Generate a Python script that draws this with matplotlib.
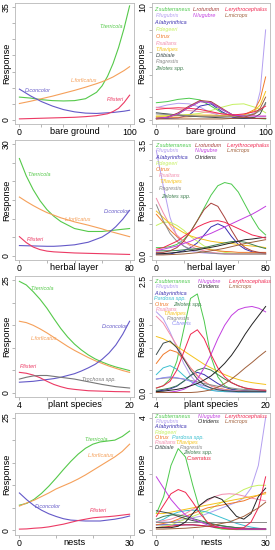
import matplotlib
matplotlib.use('Agg')
import matplotlib.pyplot as plt

plt.rcParams['font.family'] = ['Liberation Sans', 'DejaVu Sans']

# ---------------- left column: the four common species ----------------
bare_x = [0, 10, 20, 30, 40, 50, 60, 70, 75, 80, 85, 90, 95, 100]
bare_tter = [7.0, 6.7, 6.2, 5.9, 5.8, 5.9, 6.5, 8.5, 10.5, 13.5, 17.5, 22.5, 28.5, 35.5]
bare_lfor = [5.0, 5.7, 6.5, 7.3, 8.2, 9.1, 10.1, 11.2, 11.8, 12.5, 13.3, 14.3, 15.3, 16.5]
bare_dcon = [9.5, 7.4, 5.6, 4.2, 3.1, 2.4, 2.0, 1.9, 2.0, 2.1, 2.2, 2.4, 2.6, 2.9]
bare_plis = [0.2, 0.3, 0.4, 0.5, 0.6, 0.7, 0.9, 1.2, 1.5, 1.8, 2.5, 3.5, 5.3, 7.6]

herb_x = [0, 5, 10, 15, 20, 25, 30, 40, 50, 60, 65, 70, 75, 80]
herb_tter = [26.2, 21.5, 17.8, 14.8, 12.4, 10.6, 9.2, 7.3, 6.5, 6.5, 6.7, 6.9, 7.1, 7.3]
herb_lfor = [15.8, 14.6, 13.5, 12.5, 11.6, 10.9, 10.2, 9.1, 8.2, 7.2, 6.6, 6.1, 5.6, 5.1]
herb_dcon = [2.7, 2.65, 2.6, 2.55, 2.5, 2.5, 2.6, 2.9, 3.6, 5.0, 6.2, 7.8, 9.8, 12.2]
herb_plis = [5.1, 3.5, 2.3, 1.6, 1.2, 1.0, 0.9, 0.7, 0.6, 0.5, 0.45, 0.4, 0.35, 0.3]

plant_x = [4, 5, 6, 7, 8, 9, 10, 11, 12, 13, 14, 15, 16, 17, 18, 19, 20]
plant_tter = [24.8, 24.0, 22.5, 20.8, 18.8, 16.5, 14.3, 12.4, 10.8, 9.5, 8.4, 7.5, 6.8, 6.2, 5.7, 5.3, 4.9]
plant_lfor = [15.9, 15.6, 15.0, 14.2, 13.3, 12.3, 11.3, 10.3, 9.4, 8.6, 7.8, 7.1, 6.5, 5.9, 5.4, 4.9, 4.5]
plant_dcon = [2.3, 2.4, 2.5, 2.7, 2.9, 3.1, 3.4, 3.8, 4.2, 4.8, 5.5, 6.3, 7.4, 8.8, 10.6, 13.0, 15.9]
plant_plis = [4.5, 4.3, 3.9, 3.3, 2.5, 1.8, 1.3, 0.9, 0.7, 0.55, 0.4, 0.35, 0.3, 0.25, 0.2, 0.18, 0.15]
plant_troc = [3.0, 3.4, 3.7, 3.8, 3.8, 3.6, 3.4, 3.2, 3.0, 2.7, 2.4, 2.1, 1.8, 1.55, 1.3, 1.15, 1.0]

nest_x = [0, 2, 4, 6, 8, 10, 12, 14, 16, 18, 20, 22, 24, 26, 28, 30]
nest_tter = [5.6, 6.0, 6.9, 8.2, 9.8, 11.6, 13.5, 15.3, 16.9, 18.2, 19.1, 19.6, 19.8, 20.0, 20.8, 22.0]
nest_lfor = [5.4, 6.1, 6.7, 7.5, 8.3, 9.2, 9.9, 10.6, 11.4, 12.3, 13.3, 14.3, 15.3, 16.3, 17.5, 19.1]
nest_dcon = [8.3, 6.8, 5.5, 4.5, 3.7, 3.1, 2.6, 2.3, 2.2, 2.1, 2.1, 2.1, 2.3, 2.5, 2.8, 3.2]
nest_plis = [0.3, 0.35, 0.5, 0.6, 0.8, 1.1, 1.4, 1.8, 2.2, 2.5, 2.8, 2.95, 3.05, 3.2, 3.4, 3.6]

# ---------------- right column: rarer species ----------------
bare2_x = [0, 10, 20, 30, 40, 50, 60, 70, 80, 90, 95, 100]
bare2_zsub = [1.5, 1.6, 1.8, 1.9, 1.75, 1.2, 0.6, 0.3, 0.2, 0.1, 0.08, 0.05]
bare2_plug = [1.05, 1.3, 1.45, 1.4, 1.1, 0.6, 0.3, 0.2, 0.2, 0.6, 2.5, 8.0]
bare2_alab = [0.1, 0.1, 0.15, 0.4, 1.2, 1.4, 0.7, 0.2, 0.1, 0.1, 0.1, 0.1]
bare2_pdeg = [0.3, 0.35, 0.4, 0.45, 0.55, 0.8, 1.1, 1.35, 1.4, 1.1, 0.9, 0.6]
bare2_otru = [0.2, 0.2, 0.2, 0.25, 0.3, 0.3, 0.3, 0.3, 0.4, 0.9, 1.8, 3.8]
bare2_psal = [1.1, 1.0, 0.9, 0.8, 0.7, 0.6, 0.5, 0.45, 0.4, 0.35, 0.3, 0.3]
bare2_tfla = [0.3, 0.3, 0.35, 0.4, 0.4, 0.4, 0.35, 0.3, 0.4, 0.8, 1.3, 2.5]
bare2_dtib = [0.6, 0.5, 0.4, 0.3, 0.25, 0.2, 0.15, 0.1, 0.1, 0.2, 0.5, 1.5]
bare2_pagr = [0.5, 0.45, 0.4, 0.35, 0.3, 0.3, 0.3, 0.3, 0.35, 0.5, 0.8, 1.4]
bare2_zelo = [0.1, 0.2, 0.5, 1.1, 1.6, 1.5, 0.9, 0.4, 0.2, 0.1, 0.1, 0.1]
bare2_lrot = [0.05, 0.2, 0.6, 1.2, 1.7, 1.6, 1.0, 0.4, 0.2, 0.1, 0.1, 0.1]
bare2_nlug = [0.1, 0.2, 0.5, 1.1, 1.6, 1.5, 0.9, 0.4, 0.3, 0.3, 0.3, 0.3]
bare2_lery = [0.9, 1.0, 1.05, 1.0, 0.9, 0.7, 0.5, 0.4, 0.5, 0.7, 0.9, 1.2]
bare2_lmic = [0.05, 0.05, 0.05, 0.05, 0.05, 0.05, 0.05, 0.1, 0.2, 0.5, 1.0, 2.0]

herb2_x = [0, 5, 10, 15, 20, 25, 30, 35, 40, 45, 50, 55, 60, 65, 70, 75, 80]
herb2_zsub = [0.25, 0.25, 0.28, 0.35, 0.5, 0.75, 1.1, 1.5, 1.9, 2.2, 2.3, 2.25, 2.0, 1.6, 1.2, 0.85, 0.65]
herb2_plug = [3.3, 2.2, 1.2, 0.6, 0.3, 0.15, 0.1, 0.08, 0.07, 0.06, 0.05, 0.05, 0.05, 0.05, 0.05, 0.05, 0.05]
herb2_alab = [0.05, 0.05, 0.05, 0.1, 0.15, 0.25, 0.4, 0.65, 0.9, 1.0, 0.9, 0.6, 0.35, 0.2, 0.12, 0.08, 0.05]
herb2_pdeg = [0.95, 1.05, 1.05, 0.95, 0.8, 0.6, 0.45, 0.3, 0.2, 0.15, 0.1, 0.08, 0.06, 0.05, 0.05, 0.05, 0.05]
herb2_otru = [1.3, 1.05, 0.8, 0.6, 0.45, 0.35, 0.28, 0.22, 0.18, 0.15, 0.13, 0.12, 0.1, 0.1, 0.1, 0.1, 0.1]
herb2_psal = [1.8, 1.35, 0.95, 0.65, 0.45, 0.3, 0.2, 0.15, 0.1, 0.08, 0.06, 0.05, 0.05, 0.05, 0.05, 0.05, 0.05]
herb2_tfla = [1.4, 1.2, 1.0, 0.85, 0.72, 0.62, 0.55, 0.5, 0.45, 0.42, 0.4, 0.38, 0.35, 0.32, 0.3, 0.28, 0.25]
herb2_pagr = [1.6, 1.1, 0.7, 0.45, 0.3, 0.2, 0.15, 0.1, 0.08, 0.06, 0.05, 0.05, 0.05, 0.05, 0.05, 0.05, 0.05]
herb2_zelo = [0.15, 0.15, 0.15, 0.16, 0.18, 0.2, 0.22, 0.25, 0.3, 0.35, 0.4, 0.44, 0.45, 0.42, 0.35, 0.28, 0.22]
herb2_lrot = [0.1, 0.1, 0.15, 0.25, 0.45, 0.75, 1.1, 1.45, 1.65, 1.55, 1.2, 0.8, 0.45, 0.25, 0.15, 0.1, 0.08]
herb2_nlug = [0.15, 0.2, 0.25, 0.3, 0.38, 0.45, 0.55, 0.62, 0.7, 0.8, 0.9, 1.0, 1.1, 1.2, 1.3, 1.42, 1.55]
herb2_otri = [0.05, 0.06, 0.08, 0.1, 0.12, 0.15, 0.18, 0.22, 0.26, 0.3, 0.35, 0.4, 0.45, 0.5, 0.52, 0.55, 0.58]
herb2_lery = [0.2, 0.25, 0.35, 0.45, 0.6, 0.75, 0.9, 1.0, 1.08, 1.1, 1.05, 0.95, 0.85, 0.75, 0.65, 0.6, 0.55]
herb2_lmic = [0.02, 0.02, 0.03, 0.04, 0.05, 0.07, 0.09, 0.12, 0.15, 0.19, 0.23, 0.28, 0.33, 0.38, 0.42, 0.46, 0.5]

plant2_x = [4, 5, 6, 7, 8, 9, 10, 11, 12, 13, 14, 15, 16, 17, 18, 19, 20]
plant2_zsub = [0.1, 0.15, 0.3, 0.7, 1.4, 2.1, 2.2, 1.6, 0.8, 0.35, 0.15, 0.08, 0.05, 0.05, 0.05, 0.05, 0.05]
plant2_lery = [0.1, 0.15, 0.25, 0.5, 0.9, 1.3, 1.4, 1.2, 0.85, 0.55, 0.35, 0.22, 0.15, 0.1, 0.08, 0.06, 0.05]
plant2_nlug = [0.0, 0.0, 0.01, 0.03, 0.07, 0.15, 0.3, 0.55, 0.85, 1.2, 1.5, 1.72, 1.85, 1.9, 1.92, 1.88, 1.8]
plant2_otri = [0.02, 0.03, 0.05, 0.07, 0.1, 0.15, 0.2, 0.28, 0.37, 0.5, 0.65, 0.83, 1.05, 1.3, 1.52, 1.72, 1.92]
plant2_lmic = [0.0, 0.0, 0.0, 0.0, 0.0, 0.0, 0.01, 0.03, 0.06, 0.12, 0.2, 0.3, 0.42, 0.55, 0.67, 0.8, 0.92]
plant2_plug = [1.8, 1.65, 1.35, 1.0, 0.65, 0.38, 0.2, 0.1, 0.05, 0.03, 0.02, 0.01, 0.01, 0.01, 0.01, 0.01, 0.01]
plant2_psal = [1.7, 1.55, 1.3, 1.05, 0.78, 0.55, 0.37, 0.24, 0.15, 0.1, 0.06, 0.04, 0.03, 0.02, 0.02, 0.02, 0.02]
plant2_tfla = [1.25, 1.2, 1.12, 1.03, 0.93, 0.83, 0.73, 0.63, 0.55, 0.47, 0.4, 0.34, 0.29, 0.25, 0.22, 0.2, 0.18]
plant2_dtib = [0.85, 1.1, 1.15, 1.0, 0.75, 0.5, 0.3, 0.17, 0.1, 0.06, 0.04, 0.03, 0.02, 0.02, 0.02, 0.02, 0.02]
plant2_otru = [0.65, 0.85, 0.95, 0.9, 0.75, 0.55, 0.38, 0.25, 0.15, 0.1, 0.07, 0.05, 0.04, 0.03, 0.03, 0.03, 0.03]
plant2_pard = [0.4, 0.55, 0.6, 0.52, 0.38, 0.25, 0.15, 0.09, 0.05, 0.03, 0.02, 0.02, 0.01, 0.01, 0.01, 0.01, 0.01]
plant2_zelo = [0.05, 0.07, 0.1, 0.15, 0.25, 0.38, 0.5, 0.55, 0.5, 0.4, 0.3, 0.22, 0.15, 0.1, 0.07, 0.05, 0.04]
plant2_alab = [0.03, 0.05, 0.08, 0.14, 0.25, 0.38, 0.45, 0.4, 0.3, 0.2, 0.12, 0.07, 0.05, 0.04, 0.03, 0.03, 0.03]
plant2_pagr = [0.3, 0.32, 0.33, 0.32, 0.3, 0.27, 0.24, 0.2, 0.17, 0.14, 0.12, 0.1, 0.08, 0.07, 0.06, 0.05, 0.05]
plant2_cbre = [0.3, 0.33, 0.35, 0.33, 0.3, 0.25, 0.2, 0.15, 0.1, 0.07, 0.05, 0.04, 0.03, 0.03, 0.03, 0.03, 0.03]

nest2_x = [0, 2, 4, 6, 8, 10, 12, 14, 16, 18, 20, 22, 24, 26, 28, 30]
nest2_zsub = [0.6, 1.2, 2.3, 2.9, 2.6, 1.6, 0.7, 0.25, 0.1, 0.05, 0.04, 0.03, 0.03, 0.03, 0.03, 0.03]
nest2_lery = [0.5, 0.9, 1.3, 1.45, 1.35, 1.0, 0.6, 0.3, 0.15, 0.08, 0.05, 0.05, 0.1, 0.3, 0.8, 1.9]
nest2_plug = [0.3, 0.3, 0.3, 0.35, 0.4, 0.45, 0.5, 0.6, 0.7, 0.8, 0.9, 1.0, 1.15, 1.5, 2.3, 4.0]
nest2_nlug = [1.9, 1.5, 1.1, 0.8, 0.55, 0.4, 0.3, 0.2, 0.15, 0.1, 0.08, 0.06, 0.05, 0.05, 0.05, 0.05]
nest2_alab = [0.2, 0.2, 0.2, 0.2, 0.2, 0.2, 0.18, 0.15, 0.12, 0.1, 0.08, 0.06, 0.05, 0.05, 0.05, 0.05]
nest2_pdeg = [0.1, 0.15, 0.2, 0.3, 0.4, 0.5, 0.6, 0.7, 0.85, 1.0, 1.15, 1.3, 1.45, 1.55, 1.6, 1.6]
nest2_otru = [0.2, 0.25, 0.3, 0.4, 0.5, 0.6, 0.7, 0.8, 0.85, 0.9, 0.95, 1.0, 1.05, 1.15, 1.25, 1.35]
nest2_psal = [0.3, 0.35, 0.4, 0.5, 0.6, 0.75, 0.9, 1.05, 1.2, 1.28, 1.3, 1.28, 1.22, 1.15, 1.1, 1.05]
nest2_tfla = [0.6, 0.6, 0.65, 0.7, 0.75, 0.8, 0.85, 0.9, 0.95, 1.0, 1.05, 1.1, 1.15, 1.2, 1.25, 1.3]
nest2_dtib = [0.7, 0.65, 0.6, 0.5, 0.42, 0.35, 0.3, 0.25, 0.2, 0.16, 0.13, 0.1, 0.08, 0.07, 0.06, 0.05]
nest2_otri = [0.1, 0.1, 0.1, 0.15, 0.3, 0.6, 0.9, 1.1, 1.2, 1.1, 0.8, 0.5, 0.4, 0.6, 1.2, 1.5]
nest2_pard = [0.3, 0.4, 0.55, 0.65, 0.7, 0.72, 0.7, 0.65, 0.55, 0.45, 0.35, 0.25, 0.18, 0.12, 0.08, 0.05]
nest2_zelo = [0.4, 0.5, 0.55, 0.55, 0.5, 0.42, 0.35, 0.28, 0.22, 0.17, 0.13, 0.1, 0.08, 0.06, 0.05, 0.05]
nest2_cser = [0.1, 0.12, 0.15, 0.18, 0.2, 0.2, 0.18, 0.15, 0.12, 0.1, 0.08, 0.06, 0.05, 0.05, 0.05, 0.05]
nest2_lmic = [0.05, 0.05, 0.06, 0.07, 0.08, 0.1, 0.12, 0.15, 0.2, 0.25, 0.3, 0.4, 0.5, 0.65, 0.8, 1.0]
nest2_pagr = [0.3, 0.3, 0.3, 0.3, 0.3, 0.3, 0.3, 0.3, 0.3, 0.3, 0.3, 0.3, 0.3, 0.3, 0.3, 0.3]

# ---------------- colours & names ----------------
col = {
    'tter': '#55c94a', 'lfor': '#f5a05a', 'dcon': '#6459c8', 'plis': '#ec3a64', 'troc': '#777777',
    'zsub': '#4cc94c', 'plug': '#b39ff0', 'alab': '#3a2fb0', 'pdeg': '#c5f060', 'otru': '#f07a2a',
    'psal': '#f28cac', 'tfla': '#f5c21b', 'dtib': '#3c4a4a', 'pagr': '#8a8a8a', 'zelo': '#3f7f4f',
    'lrot': '#a8403c', 'nlug': '#c23ee0', 'lery': '#f0264f', 'lmic': '#a0603c', 'otri': '#222222',
    'pard': '#3cc0d0', 'cbre': '#8e8ef5', 'cser': '#e8203a',
}
name = {
    'tter': 'T.terricola', 'lfor': 'L.forficatus', 'dcon': 'D.concolor', 'plis': 'P.listeri',
    'troc': 'Trochosa spp.', 'zsub': 'Z.subterraneus', 'plug': 'P.lugubris', 'alab': 'A.labyrinthica',
    'pdeg': 'P.degeeri', 'otru': 'O.trux', 'psal': 'P.saltans', 'tfla': 'T.flavipes', 'dtib': 'D.tibiale',
    'pagr': 'P.agrestis', 'zelo': 'Zelotes spp.', 'lrot': 'L.rotundum', 'nlug': 'N.lugubre',
    'lery': 'L.erythrocephalus', 'lmic': 'L.microps', 'otri': 'O.tridens', 'pard': 'Pardosa spp.',
    'cbre': 'C.brevis', 'cser': 'C.serratus',
}

W, H = 275, 550
fig = plt.figure(figsize=(W / 100, H / 100), dpi=100)

rows_px = [(3, 124), (140, 260), (276, 397), (413, 535)]
cols_px = [(15, 134), (152, 270)]


def make_ax(r, c):
    (y0, y1), (x0, x1) = rows_px[r], cols_px[c]
    return fig.add_axes([x0 / W, 1 - y1 / H, (x1 - x0) / W, (y1 - y0) / H])


def style(ax, lo, hi, xt, ymax, yt, ylab, xlabel, ylabx):
    ax.set_xlim(lo - 0.04 * (hi - lo), hi + 0.04 * (hi - lo))
    ax.set_ylim(-0.04 * ymax, ymax * 1.04)
    ax.set_xticks(xt)
    ax.set_xticklabels([str(xt[0])] + [''] * (len(xt) - 2) + [str(xt[-1])])
    ax.set_yticks(yt)
    ax.set_yticklabels([ylab[0]] + [''] * (len(yt) - 2) + [ylab[1]], rotation=90, va='center')
    for s in ax.spines.values():
        s.set_color('#b8b8b8')
        s.set_linewidth(0.6)
    ax.tick_params(direction='out', length=2, width=0.5, color='#999999', labelsize=6.3, pad=1.2)
    ax.text(0.5, -0.022, xlabel, transform=ax.transAxes, ha='center', va='top', fontsize=6.6)
    ax.text(ylabx, 0.5, 'Response', transform=ax.transAxes, ha='center', va='center',
            rotation=90, fontsize=6.6)


def put(ax, x, y, key, tx, ty):
    ax.plot(x, y, color=col[key], lw=0.8)
    if tx is not None:
        ax.text(tx, ty, name[key], color=col[key], fontsize=3.9, style='italic',
                ha='left', va='center')


# ---- left panels ----
ax = make_ax(0, 0)
put(ax, bare_x, bare_tter, 'tter', 73, 29.2)
put(ax, bare_x, bare_lfor, 'lfor', 47, 12.3)
put(ax, bare_x, bare_dcon, 'dcon', 5, 9.1)
put(ax, bare_x, bare_plis, 'plis', 79, 6.3)
style(ax, 0, 100, [0, 20, 40, 60, 80, 100], 35, list(range(0, 36, 5)), ('0', '35'), 'bare ground', -0.072)

ax = make_ax(1, 0)
put(ax, herb_x, herb_tter, 'tter', 5.7, 22)
put(ax, herb_x, herb_lfor, 'lfor', 33, 9.6)
put(ax, herb_x, herb_dcon, 'dcon', 61, 12)
put(ax, herb_x, herb_plis, 'plis', 5.7, 4.4)
style(ax, 0, 80, [0, 20, 40, 60, 80], 30, list(range(0, 31, 5)), ('0', '30'), 'herbal layer', -0.072)

ax = make_ax(2, 0)
put(ax, plant_x, plant_tter, 'tter', 5.6, 23.3)
put(ax, plant_x, plant_lfor, 'lfor', 5.6, 12.1)
put(ax, plant_x, plant_dcon, 'dcon', 15.9, 14.8)
put(ax, plant_x, plant_plis, 'plis', 4.0, 5.7)
put(ax, plant_x, plant_troc, 'troc', 13.1, 2.8)
style(ax, 4, 20, [4, 8, 12, 16, 20], 25, list(range(0, 26, 5)), ('0', '25'), 'plant species', -0.072)

ax = make_ax(3, 0)
put(ax, nest_x, nest_tter, 'tter', 17.6, 20.2)
put(ax, nest_x, nest_lfor, 'lfor', 18.7, 16.6)
put(ax, nest_x, nest_dcon, 'dcon', 4.3, 5.3)
put(ax, nest_x, nest_plis, 'plis', 19.3, 4.4)
style(ax, 0, 30, [0, 10, 20, 30], 25, list(range(0, 26, 5)), ('0', '25'), 'nests', -0.072)


# ---- right panels: labels placed in axes fractions ----
def put2(ax, x, y, key, fx, fy):
    ax.plot(x, y, color=col[key], lw=0.7)
    if fx is not None:
        ax.text(fx, fy, name[key], color=col[key], fontsize=3.9, style='italic',
                ha='left', va='center', transform=ax.transAxes)


ax = make_ax(0, 1)
bare2 = [('zsub', bare2_zsub, 0.02, 0.95), ('plug', bare2_plug, 0.035, 0.895),
         ('alab', bare2_alab, 0.02, 0.837), ('pdeg', bare2_pdeg, 0.03, 0.777),
         ('otru', bare2_otru, 0.03, 0.722), ('psal', bare2_psal, 0.03, 0.667),
         ('tfla', bare2_tfla, 0.03, 0.617), ('dtib', bare2_dtib, 0.03, 0.564),
         ('pagr', bare2_pagr, 0.03, 0.514), ('zelo', bare2_zelo, 0.03, 0.46),
         ('lrot', bare2_lrot, 0.35, 0.95), ('nlug', bare2_nlug, 0.35, 0.895),
         ('lery', bare2_lery, 0.62, 0.95), ('lmic', bare2_lmic, 0.62, 0.895)]
for key, y, fx, fy in bare2:
    put2(ax, bare2_x, y, key, fx, fy)
style(ax, 0, 100, [0, 20, 40, 60, 80, 100], 10, list(range(0, 11, 2)), ('0', '10'), 'bare ground', -0.085)

ax = make_ax(1, 1)
herb2 = [('zsub', herb2_zsub, 0.025, 0.958), ('plug', herb2_plug, 0.03, 0.911),
         ('alab', herb2_alab, 0.025, 0.856), ('pdeg', herb2_pdeg, 0.03, 0.803),
         ('otru', herb2_otru, 0.03, 0.756), ('psal', herb2_psal, 0.054, 0.703),
         ('tfla', herb2_tfla, 0.06, 0.653), ('pagr', herb2_pagr, 0.054, 0.597),
         ('zelo', herb2_zelo, 0.076, 0.533), ('lrot', herb2_lrot, 0.364, 0.958),
         ('nlug', herb2_nlug, 0.364, 0.911), ('otri', herb2_otri, 0.364, 0.856),
         ('lery', herb2_lery, 0.633, 0.958), ('lmic', herb2_lmic, 0.633, 0.911)]
for key, y, fx, fy in herb2:
    put2(ax, herb2_x, y, key, fx, fy)
style(ax, 0, 80, [0, 20, 40, 60, 80], 3.5, [0, 0.5, 1, 1.5, 2, 2.5, 3, 3.5], ('0.0', '3.5'), 'herbal layer', -0.085)

ax = make_ax(2, 1)
plant2 = [('zsub', plant2_zsub, 0.02, 0.953), ('plug', plant2_plug, 0.03, 0.912),
          ('alab', plant2_alab, 0.02, 0.857), ('pard', plant2_pard, 0.02, 0.81),
          ('otru', plant2_otru, 0.02, 0.766), ('zelo', plant2_zelo, 0.18, 0.766),
          ('psal', plant2_psal, 0.03, 0.725), ('tfla', plant2_tfla, 0.096, 0.686),
          ('pagr', plant2_pagr, 0.124, 0.645), ('cbre', plant2_cbre, 0.167, 0.609),
          ('dtib', plant2_dtib, None, None),
          ('nlug', plant2_nlug, 0.39, 0.953), ('otri', plant2_otri, 0.39, 0.912),
          ('lery', plant2_lery, 0.647, 0.953), ('lmic', plant2_lmic, 0.647, 0.912)]
for key, y, fx, fy in plant2:
    put2(ax, plant2_x, y, key, fx, fy)
style(ax, 4, 20, [4, 8, 12, 16, 20], 2.5, [0, 0.5, 1, 1.5, 2, 2.5], ('0.0', '2.5'), 'plant species', -0.085)

ax = make_ax(3, 1)
nest2 = [('zsub', nest2_zsub, 0.02, 0.97), ('plug', nest2_plug, 0.03, 0.929),
         ('alab', nest2_alab, 0.02, 0.888), ('pdeg', nest2_pdeg, 0.02, 0.842),
         ('otru', nest2_otru, 0.02, 0.801), ('pard', nest2_pard, 0.167, 0.801),
         ('psal', nest2_psal, 0.02, 0.76), ('tfla', nest2_tfla, 0.2, 0.76),
         ('dtib', nest2_dtib, 0.02, 0.719), ('pagr', nest2_pagr, 0.237, 0.719),
         ('zelo', nest2_zelo, 0.265, 0.675), ('cser', nest2_cser, 0.294, 0.629),
         ('nlug', nest2_nlug, 0.39, 0.97), ('otri', nest2_otri, 0.39, 0.929),
         ('lery', nest2_lery, 0.62, 0.97), ('lmic', nest2_lmic, 0.62, 0.929)]
for key, y, fx, fy in nest2:
    put2(ax, nest2_x, y, key, fx, fy)
style(ax, 0, 30, [0, 10, 20, 30], 4, [0, 1, 2, 3, 4], ('0', '4'), 'nests', -0.085)

fig.savefig('out.png', dpi=100)
